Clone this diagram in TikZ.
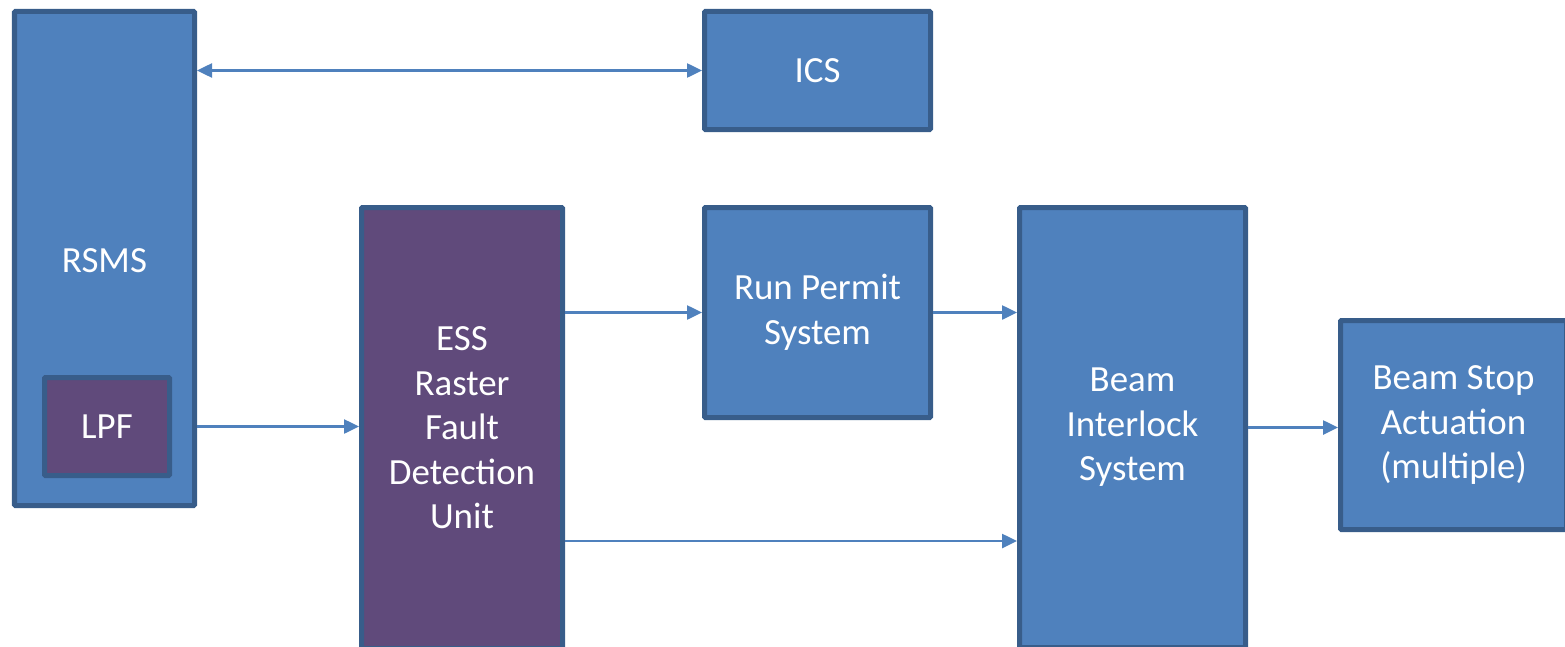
\documentclass[tikz,border=0pt]{standalone}
\usepackage{fontspec}
\setmainfont{Carlito}
\usepackage{tikz}
\usetikzlibrary{arrows.meta}
\usepackage{xcolor}
\definecolor{sblue}{HTML}{4F81BD}
\definecolor{dblue}{HTML}{385D8A}
\definecolor{plum}{HTML}{604A7B}

\tikzset{
  lbl/.style={text=white,align=center,font=\fontsize{21}{25.3}\selectfont},
  blk/.style={lbl,draw=dblue,fill=sblue,line width=0.1cm,rounded corners=0.5pt},
  pblk/.style={blk,fill=plum},
  link/.style={sblue,line width=0.05cm,-{Triangle[length=0.3cm,width=0.28cm]}},
  dlink/.style={link,{Triangle[length=0.3cm,width=0.28cm]}-{Triangle[length=0.3cm,width=0.28cm]}}
}

\begin{document}
\begin{tikzpicture}
        \useasboundingbox (0,0) rectangle (31.3,12.92);
        \clip (0,0) rectangle (31.3,12.92);

        % RSMS with LPF inside
        \node[blk,minimum width=3.6cm,minimum height=9.88cm] (rsms) at (2.09,7.75) {};
        \node[lbl] (rsmslbl) at (2.09,7.70) {RSMS};
        \node[pblk,minimum width=2.5cm,minimum height=1.96cm] (lpf) at (2.14,4.39) {LPF};

        % ICS
        \node[blk,minimum width=4.52cm,minimum height=2.36cm] (ics) at (16.35,11.51) {ICS};

        % Fault detection unit
        \node[pblk,minimum width=4.02cm,minimum height=8.82cm] (fdu) at (9.24,4.36)
          {ESS\\Raster\\Fault\\Detection\\Unit};

        % Run permit
        \node[blk,minimum width=4.52cm,minimum height=4.2cm] (rps) at (16.35,6.67)
          {Run Permit\\System};

        % Beam interlock
        \node[blk,minimum width=4.52cm,minimum height=8.8cm] (bis) at (22.65,4.37)
          {Beam\\Interlock\\System};

        % Beam stop
        \node[blk,minimum width=4.52cm,minimum height=4.18cm] (bsa) at (29.07,4.42)
          {Beam Stop\\Actuation\\(multiple)};

        % Connections
        \draw[dlink] (ics.west) -- (ics.west -| rsms.east);
        \draw[link] (lpf.east -| rsms.east) -- (lpf.east -| fdu.west);
        \draw[link] (fdu.east |- rps.west) -- (rps.west);
        \draw[link] (rps.east) -- (rps.east -| bis.west);
        \draw[link] ([yshift=-2.26cm]fdu.east) -- ([yshift=-2.26cm]fdu.east -| bis.west);
        \draw[link] (bis.east) -- (bis.east -| bsa.west);
      \end{tikzpicture}
\end{document}
